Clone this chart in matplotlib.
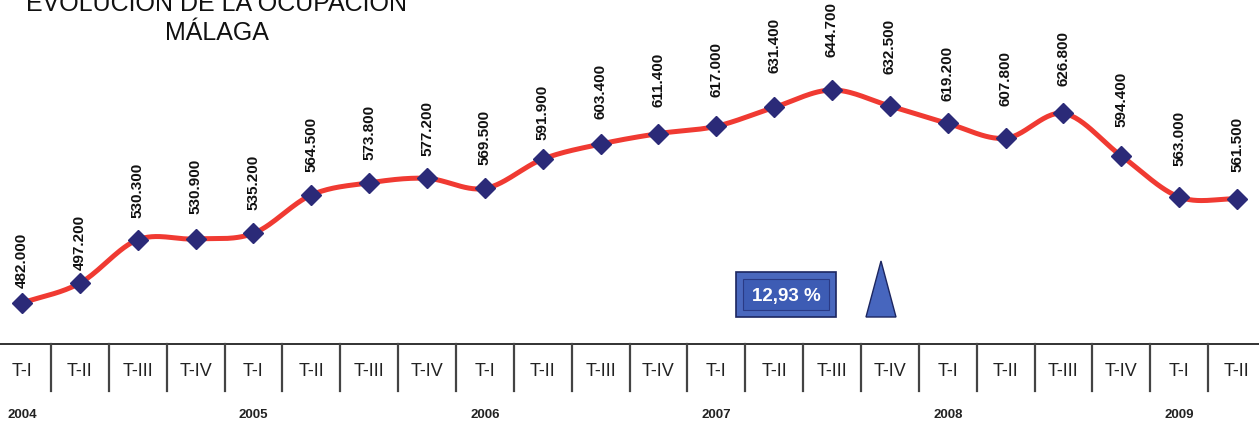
import numpy as np
import matplotlib
matplotlib.use("Agg")
import matplotlib.pyplot as plt
from matplotlib.patches import Rectangle, Polygon
from matplotlib.transforms import blended_transform_factory

plt.rcParams['font.family'] = ['Liberation Sans', 'DejaVu Sans']

quarters = ['T-I', 'T-II', 'T-III', 'T-IV'] * 5 + ['T-I', 'T-II']
years = ['2004', '2005', '2006', '2007', '2008', '2009']
ocupados = [482.0, 497.2, 530.3, 530.9, 535.2, 564.5, 573.8, 577.2, 569.5, 591.9, 603.4,
            611.4, 617.0, 631.4, 644.7, 632.5, 619.2, 607.8, 626.8, 594.4, 563.0, 561.5]
variacion = '12,93 %'

# labels were hand-placed in the original, gap above each marker in px
label_gap = [16, 14, 23, 26, 24, 24, 24, 23, 24, 20, 26,
             28, 30, 35, 34, 33, 23, 33, 28, 30, 32, 28]


def smooth(x, y, n=30):
    # catmull-rom, roughly what excel's "smoothed line" does
    x = np.asarray(x, float)
    y = np.asarray(y, float)
    px = np.concatenate([[2 * x[0] - x[1]], x, [2 * x[-1] - x[-2]]])
    py = np.concatenate([[2 * y[0] - y[1]], y, [2 * y[-1] - y[-2]]])
    xs, ys = [], []
    t = np.linspace(0, 1, n)
    for i in range(1, len(px) - 2):
        for p, out in ((px, xs), (py, ys)):
            p0, p1, p2, p3 = p[i - 1], p[i], p[i + 1], p[i + 2]
            out.extend(0.5 * (2 * p1 + (-p0 + p2) * t
                              + (2 * p0 - 5 * p1 + 4 * p2 - p3) * t ** 2
                              + (-p0 + 3 * p1 - 3 * p2 + p3) * t ** 3))
    return np.array(xs), np.array(ys)


W, H = 1259, 427
fig = plt.figure(figsize=(W / 100, H / 100), dpi=100)
ax = fig.add_axes([0, 0, 1, 1])
ax.set_axis_off()

x = np.arange(len(ocupados))
step = (1237 - 22) / 21.0
ax.set_xlim(-22 / step, 21 + (W - 1237) / step)
pxu = 213 / (644.7 - 482.0)
ax.set_ylim(482.0 - (H - 304) / pxu, 482.0 + 304 / pxu)

sx, sy = smooth(x, ocupados)
ax.plot(sx, sy, color='#F03A32', lw=3.6, solid_capstyle='round', zorder=2)
ax.plot(x, ocupados, ls='none', marker='D', ms=10, color='#2B2A78', zorder=3)

for xi, v, g in zip(x, ocupados, label_gap):
    ax.annotate(f'{v:.3f}', (xi, v), xytext=(0, g * 0.72), textcoords='offset points',
                rotation=90, ha='center', va='bottom', fontsize=11,
                fontweight='bold', color='#111111')

# quarter strip under the chart
tr = blended_transform_factory(ax.transData, fig.transFigure)
yline = 1 - 345 / H
ybot = 1 - 392 / H
ax.plot([-1, 22], [yline, yline], transform=tr, color='#222222', lw=1.3, clip_on=False)
for i in range(len(quarters)):
    ax.plot([i + 0.5, i + 0.5], [yline, ybot], transform=tr, color='#444444', lw=1.6,
            clip_on=False)
    ax.text(i, 1 - 372 / H, quarters[i], transform=tr, ha='center', va='center',
            fontsize=13, color='#222222')
for k, yr in enumerate(years):
    ax.text(4 * k, 1 - 415 / H, yr, transform=tr, ha='center', va='center',
            fontsize=9.5, fontweight='bold', color='#222222')

# title (partly cut off at the top, as in the original)
fig.text(217 / W, 1 - 4 / H, 'EVOLUCION DE LA OCUPACION', ha='center', va='center',
         fontsize=18, color='#111111')
fig.text(217 / W, 1 - 33 / H, 'MÁLAGA', ha='center', va='center',
         fontsize=18, color='#111111')


# variation box and arrow
def fr(px, py):
    return px / W, 1 - py / H


bx0, by0 = fr(736, 318)
fig.patches.append(Rectangle((bx0, by0), 100 / W, 45 / H, transform=fig.transFigure,
                             facecolor='#4A68BE', edgecolor='#1C2660', lw=1.2))
ix0, iy0 = fr(743, 311)
fig.patches.append(Rectangle((ix0, iy0), 86 / W, 31 / H, transform=fig.transFigure,
                             facecolor='#3D5CB4', edgecolor='#2A3A85', lw=0.8))
fig.text(786 / W, 1 - 296 / H, variacion, ha='center', va='center', fontsize=13.5,
         fontweight='bold', color='white')
tri = [fr(866, 318), fr(896, 318), fr(881, 262)]
fig.patches.append(Polygon(tri, closed=True, transform=fig.transFigure,
                           facecolor='#4766BE', edgecolor='#1C2660', lw=1.0))

fig.savefig('out.png', dpi=100)
